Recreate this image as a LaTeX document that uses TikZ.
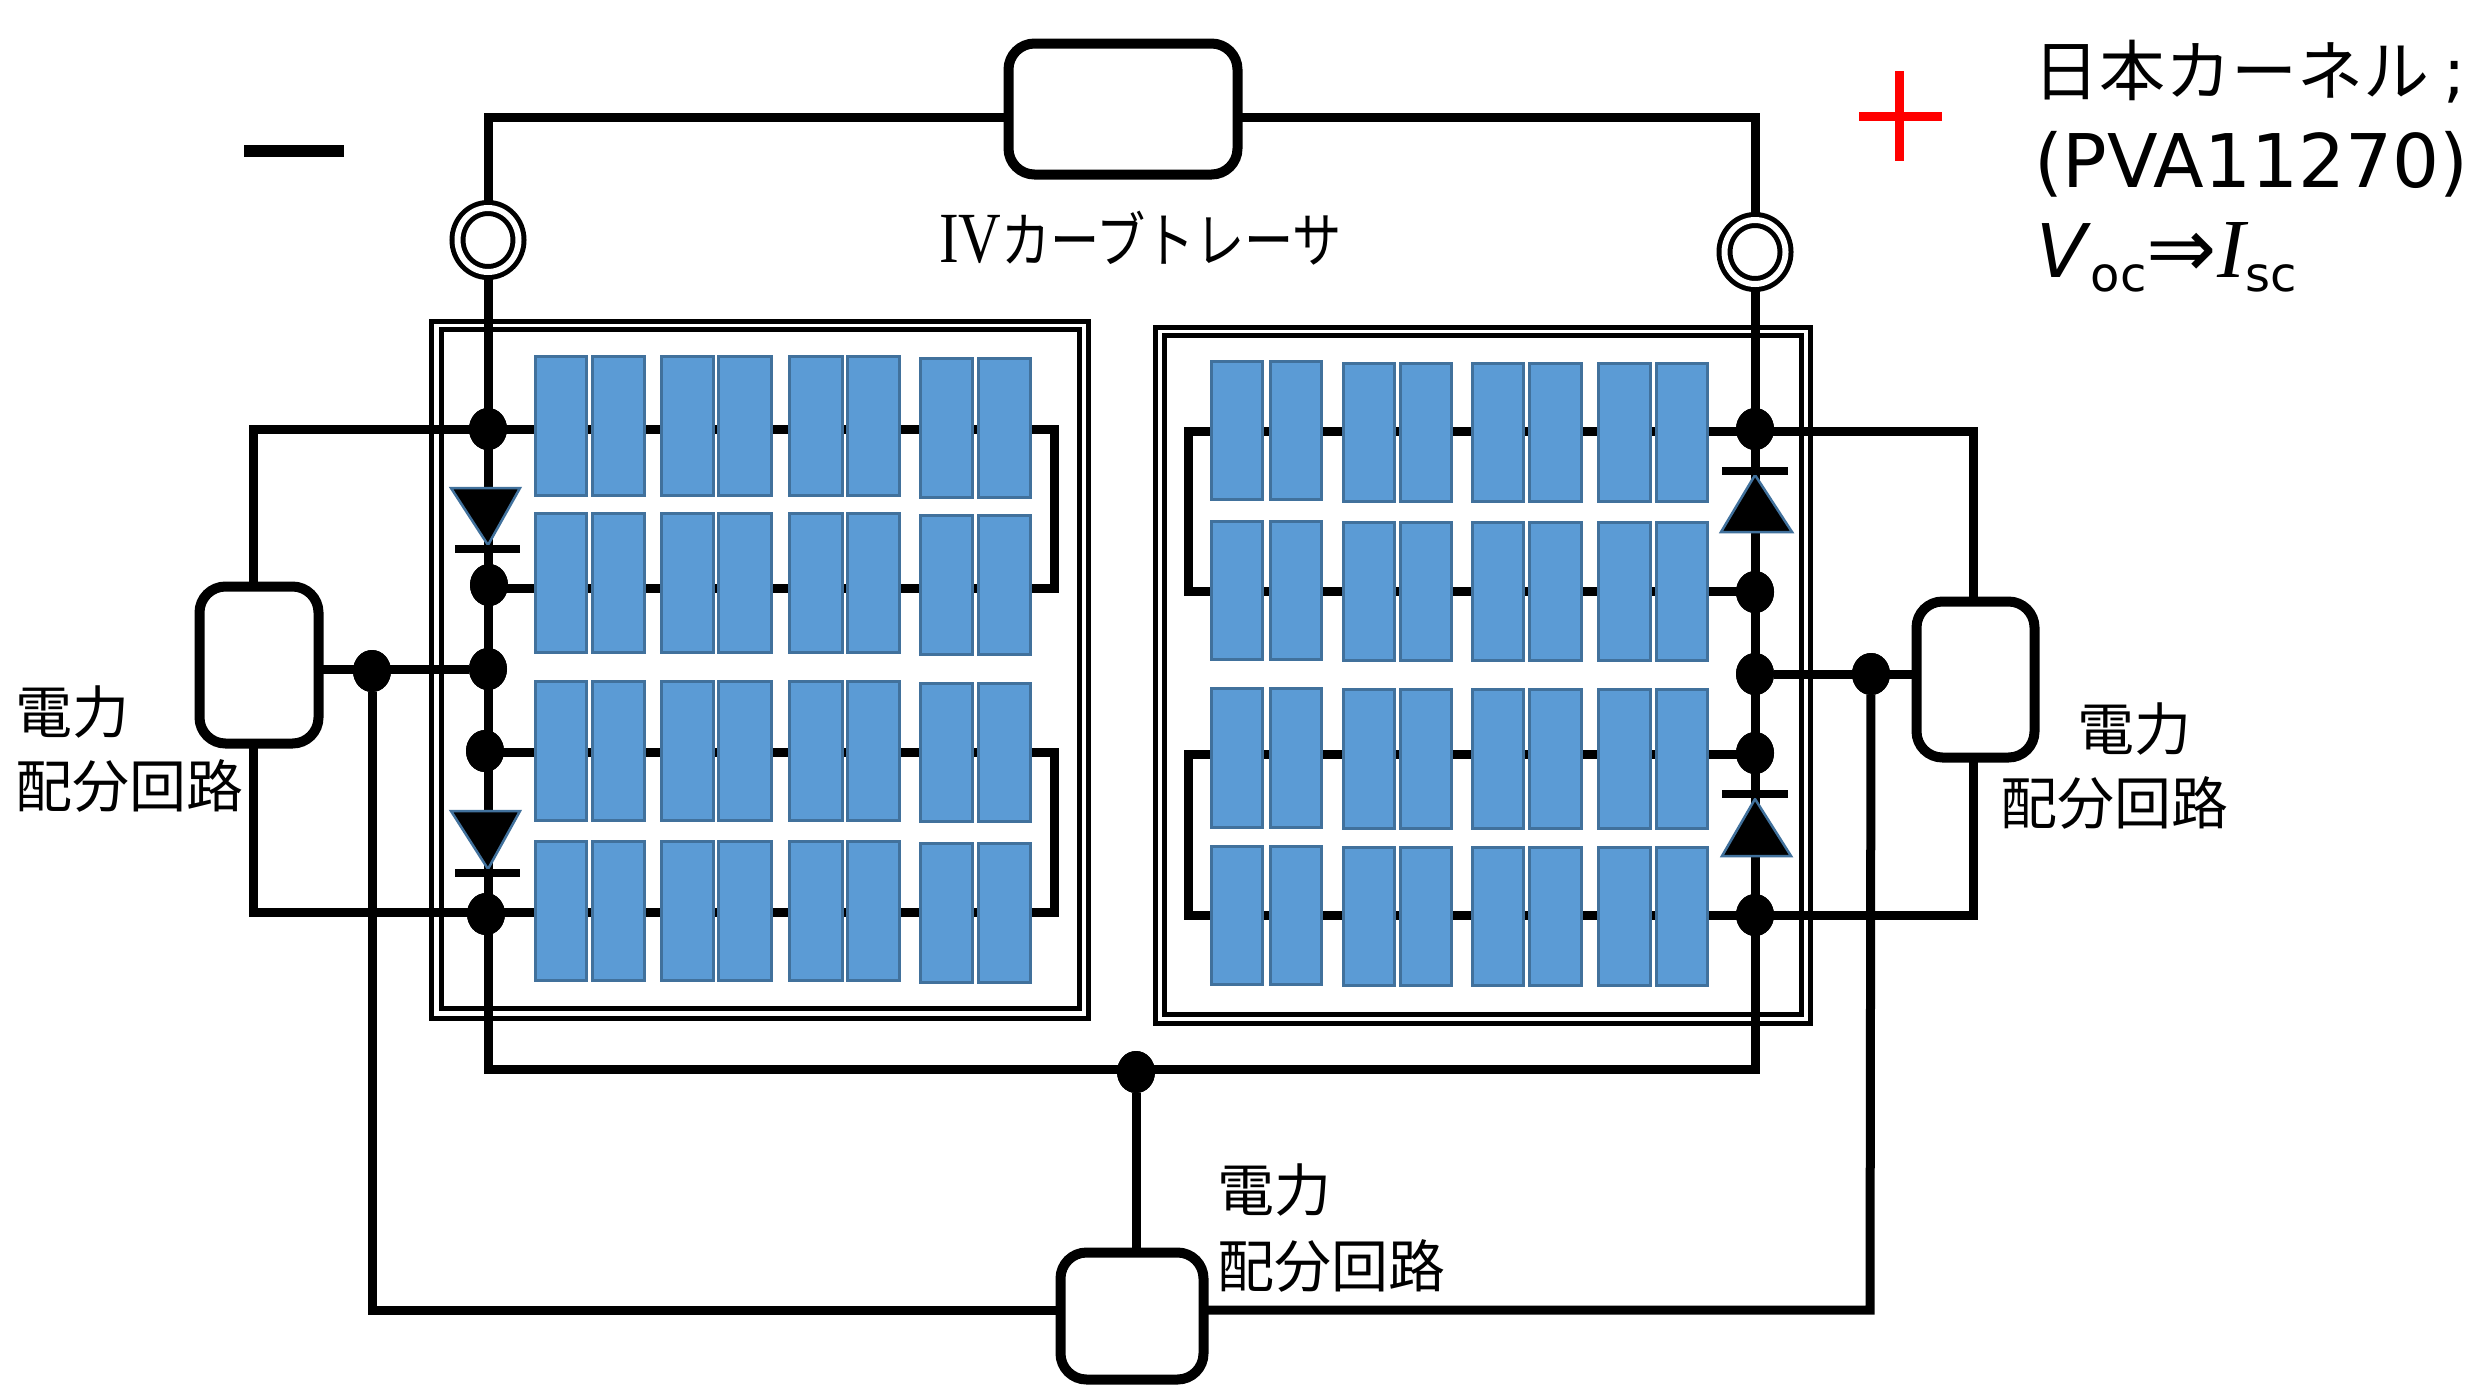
\documentclass[tikz,border=0pt]{standalone}
\usepackage{fontspec}
\setmainfont{DejaVu Sans}
\newfontfamily\cjk{Noto Sans CJK JP}
\newfontfamily\ivserif{Liberation Serif}
\usetikzlibrary{shapes.geometric}
\definecolor{cellblue}{HTML}{5B9BD5}
\definecolor{celledge}{HTML}{41719C}
\tikzset{
  wire/.style={draw=black,line width=9pt,line join=miter},
  panelline/.style={draw=black,line width=5pt},
  cell/.style={fill=cellblue,draw=celledge,line width=3pt},
  dotnode/.style={ellipse,fill=black,inner sep=0pt,minimum width=38pt,minimum height=42pt,outer sep=0pt},
  ringnode/.style={ellipse,double=white,draw=black,fill=white,line width=5pt,double distance=6pt,inner sep=0pt,minimum width=61pt,minimum height=64pt,outer sep=0pt},
  boxnode/.style={draw=black,fill=white,line width=10pt,rounded corners=26pt,inner sep=0pt,outer sep=0pt},
  diode/.style={fill=black,draw=celledge,line width=2.5pt,line join=miter},
  bar/.style={draw=black,line width=8pt},
  label/.style={inner sep=0pt,outer sep=0pt,text=black},
  jp/.style={label,font=\cjk\fontsize{57}{57}\selectfont,anchor=west},
}
\newcommand{\cellrow}[3]{% x-pair list, y1, y2
  \foreach \xa/\xb in #1 {\draw[cell] (\xa+1.5,#2+1.5) rectangle (\xb-1.5,#3-1.5);}}
\begin{document}
\begin{tikzpicture}[x=1pt,y=-1pt]
\path[use as bounding box,fill=white] (0,0) rectangle (2475,1385);

% panels
\draw[panelline] (431,321) rectangle (1088,1018);
\draw[panelline] (441,329) rectangle (1079,1008);
\draw[panelline] (1155,327) rectangle (1810,1023);
\draw[panelline] (1164,335) rectangle (1801,1014);

% named points of the wiring
\coordinate (TL) at (488,117);
\coordinate (TR) at (1755,117);
\coordinate (BL) at (488,1069);
\coordinate (BR) at (1755,1069);
\coordinate (LT) at (253,429);
\coordinate (LB) at (253,912);
\coordinate (RT) at (1973,431);
\coordinate (RB) at (1973,915);
\coordinate (LA1) at (1054,429);
\coordinate (LA2) at (1054,588);
\coordinate (LA3) at (1054,752);
\coordinate (LA4) at (1054,912);
\coordinate (RA1) at (1188,431);
\coordinate (RA2) at (1188,591);
\coordinate (RA3) at (1188,754);
\coordinate (RA4) at (1188,915);
\coordinate (SL) at (372,1310);
\coordinate (SR) at (1870,1310);

% dots
\node[dotnode] (L1) at (488,429) {};
\node[dotnode] (L2) at (489,585) {};
\node[dotnode] (L3) at (488,669) {};
\node[dotnode] (L4) at (485,751) {};
\node[dotnode] (L5) at (486,914) {};
\node[dotnode] (R1) at (1755,429) {};
\node[dotnode] (R2) at (1755,592) {};
\node[dotnode] (R3) at (1755,674) {};
\node[dotnode] (R4) at (1755,753) {};
\node[dotnode] (R5) at (1755,915) {};
\node[dotnode] (JL) at (372,671) {};
\node[dotnode] (JR) at (1871,674) {};
\node[dotnode] (JB) at (1136,1072) {};

% box attachment points
\coordinate (tracerW) at (1008,109);
\coordinate (tracerE) at (1238,109);
\coordinate (dlN) at (259,586);
\coordinate (dlS) at (259,744);
\coordinate (dlE) at (318,665);
\coordinate (drN) at (1975,601);
\coordinate (drS) at (1975,758);
\coordinate (drW) at (1917,680);
\coordinate (dbN) at (1132,1253);
\coordinate (dbW) at (1061,1316);
\coordinate (dbE) at (1203,1316);

% wires
\draw[wire] (tracerW |- TL) -- (TL) -- (BL) -- (BR) -- (TR) -- (tracerE |- TR);
\draw[wire] (LT |- dlN) -- (LT) -- (LA1) -- (LA2) -- (L2 |- LA2);
\draw[wire] (LB |- dlS) -- (LB) -- (LA4) -- (LA3) -- (L4 |- LA3);
\draw[wire] (RT |- drN) -- (RT) -- (RA1) -- (RA2) -- (R2 |- RA2);
\draw[wire] (RB |- drS) -- (RB) -- (RA4) -- (RA3) -- (R4 |- RA3);
\draw[wire] (dlE |- L3) -- (L3);
\draw[wire] (drW |- R3) -- (R3);
\draw[wire] (JL) -- (SL) -- (dbW |- SL);
\draw[wire] (JR) -- (SR) -- (dbE |- SR);
\draw[wire] (JB) -- (JB |- dbN);

% boxes over the wire ends
\node[boxnode,minimum width=229pt,minimum height=131pt] (tracer) at (1123,109) {};
\node[boxnode,minimum width=119pt,minimum height=157pt] (dl) at (259,665) {};
\node[boxnode,minimum width=118pt,minimum height=156pt] (dr) at (1975.5,679.5) {};
\node[boxnode,minimum width=143pt,minimum height=127pt] (db) at (1132,1316) {};

% cells, left panel
\def\LA{534/588,591/646,660/715,717/773,788/844,846/901}
\def\LB{919/974,977/1032}
\cellrow{\LA}{355}{497}
\cellrow{\LA}{512}{654}
\cellrow{\LA}{680}{822}
\cellrow{\LA}{840}{982}
\cellrow{\LB}{357}{499}
\cellrow{\LB}{514}{656}
\cellrow{\LB}{682}{823}
\cellrow{\LB}{842}{984}
% cells, right panel
\def\RA{1210/1264,1269/1323}
\def\RB{1342/1396,1399/1453,1471/1525,1528/1583,1597/1652,1655/1709}
\cellrow{\RA}{360}{501}
\cellrow{\RA}{520}{661}
\cellrow{\RA}{687}{829}
\cellrow{\RA}{845}{986}
\cellrow{\RB}{362}{503}
\cellrow{\RB}{521}{662}
\cellrow{\RB}{688}{830}
\cellrow{\RB}{846}{987}

% diodes
\draw[diode] (451,488) -- (520,488) -- (488,545) -- cycle;
\draw[bar] (455,549) -- (520,549);
\draw[diode] (451,811) -- (520,811) -- (488,869) -- cycle;
\draw[bar] (455,873) -- (520,873);
\draw[diode] (1721,532) -- (1792,532) -- (1755,475) -- cycle;
\draw[bar] (1722,471) -- (1788,471);
\draw[diode] (1722,856) -- (1791,856) -- (1755,799) -- cycle;
\draw[bar] (1722,794) -- (1788,794);

% redraw dots above wires
\foreach \d in {L1,L2,L3,L4,L5,R1,R2,R3,R4,R5,JL,JR,JB}{\fill[black] (\d.west) arc[x radius=19pt,y radius=21pt,start angle=180,end angle=-180];}

% terminals
\node[ringnode] (RL) at (488,240) {};
\node[ringnode] (RR) at (1755,252) {};

% polarity
\fill[black] (244,145) rectangle (344,157);
\fill[red] (1859,112) rectangle (1942,121);
\fill[red] (1895,71) rectangle (1904,161);

% texts
\node[label,anchor=west,font=\cjk\fontsize{60}{60}\selectfont] (tt) at (939,238)
  {\scalebox{.82}[1]{{\ivserif\fontsize{72}{72}\selectfont IV}カーブトレーサ}};
\node[jp] (a1) at (15,712) {電力};
\node[jp] (a2) at (15,786) {配分回路};
\node[jp] (b1) at (2077,729) {電力};
\node[jp] (b2) at (2000,803) {配分回路};
\node[jp] (c1) at (1217,1190) {電力};
\node[jp] (c2) at (1217,1266) {配分回路};
\node[label,anchor=west,font=\cjk\fontsize{66}{66}\selectfont] (n1) at (2033,72) {日本カーネル {\fontspec{DejaVu Sans};}};
\node[label,anchor=base west,font=\fontsize{74}{74}\selectfont] (n2) at (2034,187) {(PVA11270)};
\node[label,anchor=base west,font=\fontsize{74}{74}\selectfont] (n3) at (2036,277)
  {\textit{V}\raisebox{-14pt}{\fontsize{48}{48}\selectfont oc}{\fontsize{84}{84}\selectfont ⇒}{\ivserif\itshape\fontsize{84}{84}\selectfont I}\raisebox{-14pt}{\fontsize{48}{48}\selectfont sc}};
\end{tikzpicture}
\end{document}
